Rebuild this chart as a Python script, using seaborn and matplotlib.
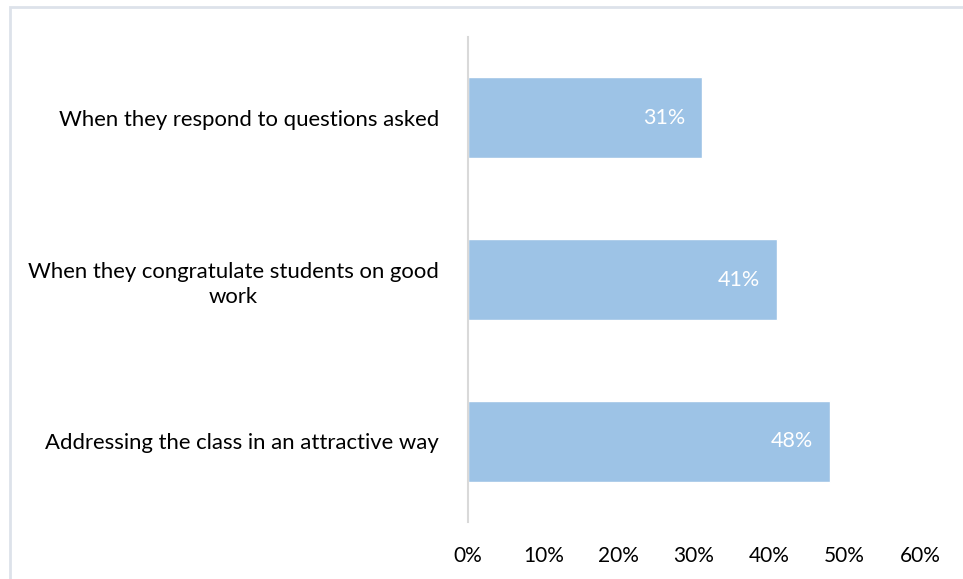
import matplotlib
matplotlib.use("Agg")
import matplotlib.pyplot as plt
import seaborn as sns
import pandas as pd
from matplotlib.patches import Rectangle
from matplotlib.ticker import FuncFormatter

categories = [
    "When they respond to questions asked",
    "When they congratulate students on good\nwork",
    "Addressing the class in an attractive way",
]
values = [0.31, 0.41, 0.48]
value_labels = ["31%", "41%", "48%"]
x_ticks = [0.0, 0.1, 0.2, 0.3, 0.4, 0.5, 0.6]

sns.set_theme(style="white")
plt.rcParams["font.family"] = ["Lato", "DejaVu Sans"]

W, H = 963, 579
fig = plt.figure(figsize=(W / 100, H / 100), dpi=100)
fig.patch.set_facecolor("white")

# light frame around the chart area
fig.patches.append(Rectangle((10 / W, -0.1), 1.2, 1 - 7 / H + 0.1,
                             transform=fig.transFigure, fill=False,
                             edgecolor="#DDE2EA", linewidth=2.0))

ax = fig.add_axes([468 / W, 1 - 522 / H, (920 - 468) / W, (522 - 37) / H])

df = pd.DataFrame({"category": categories, "value": values})
sns.barplot(data=df, x="value", y="category", orient="h", color="#9DC3E6",
            saturation=1, width=0.5, ax=ax)

ax.set_xlim(0, 0.6)
ax.set_ylim(2.5, -0.5)
ax.set_xticks(x_ticks)
ax.xaxis.set_major_formatter(FuncFormatter(lambda v, _: f"{v * 100:.0f}%"))
ax.set_xlabel("")
ax.set_ylabel("")

for s in ["top", "right", "bottom"]:
    ax.spines[s].set_visible(False)
ax.spines["left"].set_color("#D9D9D9")
ax.spines["left"].set_linewidth(1.5)

ax.tick_params(axis="x", length=0, pad=17, labelsize=15, labelcolor="#000000")
ax.tick_params(axis="y", length=0, pad=21, labelsize=15.9, labelcolor="#000000")
for lbl in ax.get_yticklabels():
    lbl.set_multialignment("center")
    lbl.set_linespacing(1.35)

for i, (v, t) in enumerate(zip(values, value_labels)):
    ax.text(v - 0.022, i, t, ha="right", va="center", color="white", fontsize=15.5)

fig.savefig("out.png", dpi=100, facecolor="white")
